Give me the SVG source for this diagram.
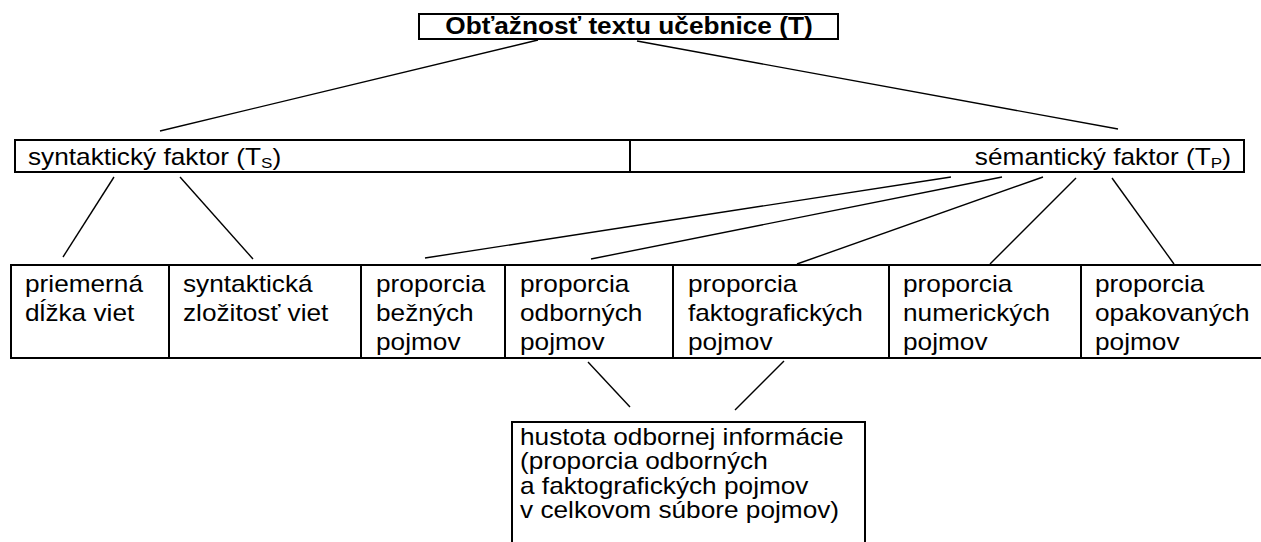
<svg xmlns="http://www.w3.org/2000/svg" width="1261" height="542" viewBox="0 0 1261 542">
<style>
.box{fill:#fff;stroke:#000;stroke-width:2}
.t{font-family:"Liberation Sans",Arial,sans-serif;font-size:23px;fill:#000}
.b{font-weight:bold}
.c line{stroke:#000;stroke-width:1.4}
</style>
<rect width="1261" height="542" fill="#fff"/>
<g id="n-T">
<rect class="box" x="419" y="14" width="419" height="25"/>
<text class="t b" transform="translate(629,34) scale(1.14,1)" text-anchor="middle">Obťažnosť textu učebnice (T)</text>
</g>
<g id="n-TS">
<rect class="box" x="15" y="140" width="615" height="32"/>
<text class="t" transform="translate(28,165) scale(1.14,1)">syntaktický faktor (T<tspan font-size="15" dy="3">S</tspan><tspan dy="-3">)</tspan></text>
</g>
<g id="n-TP">
<rect class="box" x="630" y="140" width="614" height="32"/>
<text class="t" transform="translate(1231,165) scale(1.14,1)" text-anchor="end">sémantický faktor (T<tspan font-size="15" dy="3">P</tspan><tspan dy="-3">)</tspan></text>
</g>
<g id="n-1">
<rect class="box" x="11" y="265" width="158" height="93"/>
<text class="t" transform="translate(25,292) scale(1.14,1)"><tspan x="0">priemerná</tspan><tspan x="0" dy="29">dĺžka viet</tspan></text>
</g>
<g id="n-2">
<rect class="box" x="169" y="265" width="192" height="93"/>
<text class="t" transform="translate(183,292) scale(1.14,1)"><tspan x="0">syntaktická</tspan><tspan x="0" dy="29">zložitosť viet</tspan></text>
</g>
<g id="n-3">
<rect class="box" x="361" y="265" width="144" height="93"/>
<text class="t" transform="translate(376,292) scale(1.14,1)"><tspan x="0">proporcia</tspan><tspan x="0" dy="29">bežných</tspan><tspan x="0" dy="29">pojmov</tspan></text>
</g>
<g id="n-4">
<rect class="box" x="505" y="265" width="168" height="93"/>
<text class="t" transform="translate(520,292) scale(1.14,1)"><tspan x="0">proporcia</tspan><tspan x="0" dy="29">odborných</tspan><tspan x="0" dy="29">pojmov</tspan></text>
</g>
<g id="n-5">
<rect class="box" x="673" y="265" width="216" height="93"/>
<text class="t" transform="translate(688,292) scale(1.14,1)"><tspan x="0">proporcia</tspan><tspan x="0" dy="29">faktografických</tspan><tspan x="0" dy="29">pojmov</tspan></text>
</g>
<g id="n-6">
<rect class="box" x="889" y="265" width="192" height="93"/>
<text class="t" transform="translate(903,292) scale(1.14,1)"><tspan x="0">proporcia</tspan><tspan x="0" dy="29">numerických</tspan><tspan x="0" dy="29">pojmov</tspan></text>
</g>
<g id="n-7">
<rect class="box" x="1081" y="265" width="190" height="93"/>
<text class="t" transform="translate(1095,292) scale(1.14,1)"><tspan x="0">proporcia</tspan><tspan x="0" dy="29">opakovaných</tspan><tspan x="0" dy="29">pojmov</tspan></text>
</g>
<g id="n-H">
<rect class="box" x="512" y="422" width="353" height="140"/>
<text class="t" transform="translate(520,445) scale(1.14,1)"><tspan x="0">hustota odbornej informácie</tspan><tspan x="0" dy="24.5">(proporcia odborných</tspan><tspan x="0" dy="24.5">a faktografických pojmov</tspan><tspan x="0" dy="24.5">v celkovom súbore pojmov)</tspan></text>
</g>
<g id="connectors" class="c">
<line x1="538" y1="40" x2="160" y2="131"/>
<line x1="637" y1="41" x2="1118" y2="129"/>
<line x1="114" y1="177" x2="63" y2="257"/>
<line x1="180" y1="177" x2="253" y2="259"/>
<line x1="951" y1="177" x2="425" y2="258"/>
<line x1="1002" y1="177" x2="591" y2="259"/>
<line x1="1043" y1="177" x2="797" y2="264"/>
<line x1="1076" y1="178" x2="990" y2="264"/>
<line x1="1112" y1="178" x2="1174" y2="264"/>
<line x1="588" y1="362" x2="630" y2="407"/>
<line x1="784" y1="361" x2="735" y2="410"/>
</g>
</svg>
